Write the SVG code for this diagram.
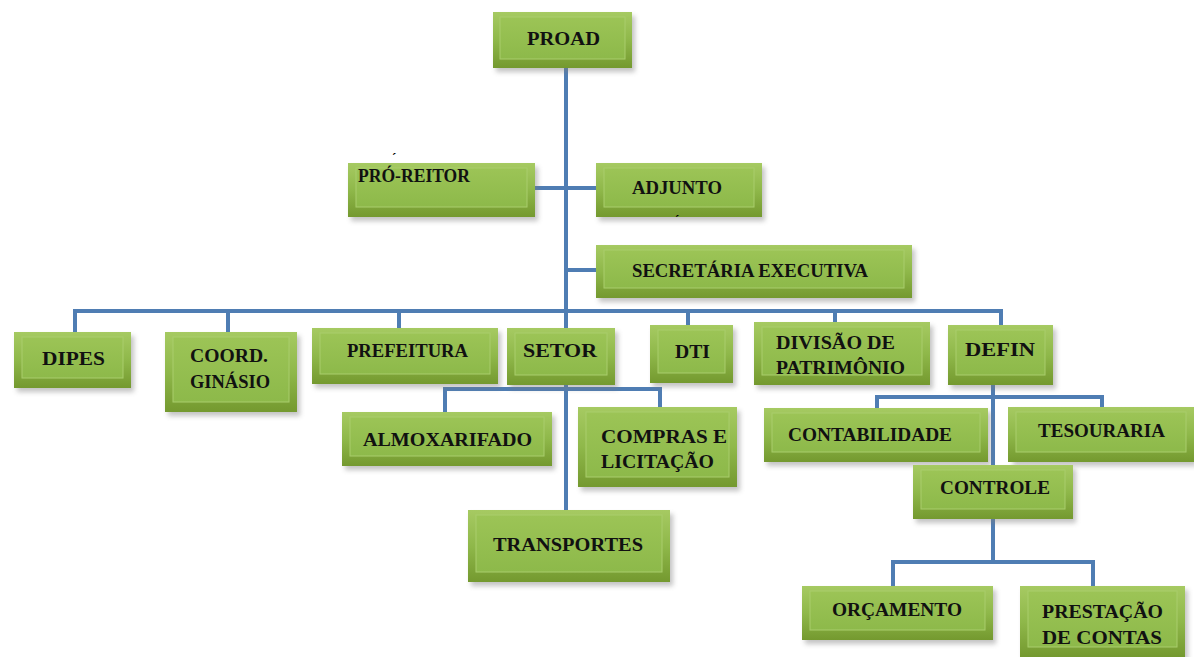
<svg xmlns="http://www.w3.org/2000/svg" width="1194" height="657" viewBox="0 0 1194 657">
<defs>
<linearGradient id="gOut" x1="0" y1="0" x2="0" y2="1">
<stop offset="0" stop-color="#a6ca62"/>
<stop offset="0.5" stop-color="#8fb84a"/>
<stop offset="1" stop-color="#74992f"/>
</linearGradient>
<linearGradient id="gIn" x1="0" y1="0" x2="0" y2="1">
<stop offset="0" stop-color="#9cc456"/>
<stop offset="1" stop-color="#8db94a"/>
</linearGradient>
<filter id="sh" x="-10%" y="-10%" width="130%" height="140%">
<feGaussianBlur stdDeviation="2.5"/>
</filter>
</defs>
<style>
.sh{fill:#7a7a7a;opacity:.45;filter:url(#sh)}
.o{fill:url(#gOut)}
.i{fill:url(#gIn);stroke:#a9cd6c;stroke-width:1}
.t{font-family:"Liberation Serif","Times New Roman",serif;font-weight:bold;font-size:19px;fill:#111}
.c{fill:none;stroke:#4f7db3;stroke-width:4;stroke-linecap:butt}
.acc{font-family:"Liberation Serif",serif;font-weight:bold;font-size:13px;fill:#000}
</style>
<rect width="1194" height="657" fill="#ffffff"/>

<g id="connectors">
<path class="c" d="M566 68V311"/>
<path class="c" d="M535 188H596"/>
<path class="c" d="M566 270H596"/>
<path class="c" d="M75 332V311H1001V325"/>
<path class="c" d="M228 311V332M399 311V328M566 311V328M688 311V325M835 311V322"/>
<path class="c" d="M566 376V512"/>
<path class="c" d="M445 412V389H660V407"/>
<path class="c" d="M993 383V467"/>
<path class="c" d="M877 408V397H1102V407"/>
<path class="c" d="M993 518V562"/>
<path class="c" d="M893 586V562H1093V586"/>
</g>

<g id="proad">
<rect class="sh" x="496" y="16" width="139" height="56"/>
<rect class="o" x="493" y="12" width="139" height="56"/>
<rect class="i" x="500" y="17" width="125" height="42"/>
<text class="t" x="527" y="45" textLength="73" lengthAdjust="spacingAndGlyphs">PROAD</text>
</g>

<g id="pro-reitor">
<rect class="sh" x="351" y="167" width="187" height="54"/>
<rect class="o" x="348" y="163" width="187" height="54"/>
<rect class="i" x="356" y="168" width="171" height="39"/>
<text class="t" x="358" y="182" textLength="112" lengthAdjust="spacingAndGlyphs">PRÓ-REITOR</text>
</g>
<text class="acc" x="392" y="162">´</text>

<g id="adjunto">
<rect class="sh" x="599" y="167" width="166" height="54"/>
<rect class="o" x="596" y="163" width="166" height="54"/>
<rect class="i" x="604" y="168" width="150" height="39"/>
<text class="t" x="632" y="194" textLength="90" lengthAdjust="spacingAndGlyphs">ADJUNTO</text>
</g>
<text class="acc" x="675" y="224">´</text>

<g id="secretaria">
<rect class="sh" x="599" y="249" width="316" height="53"/>
<rect class="o" x="596" y="245" width="316" height="53"/>
<rect class="i" x="604" y="250" width="300" height="38"/>
<text class="t" x="632" y="277" textLength="236" lengthAdjust="spacingAndGlyphs">SECRETÁRIA  EXECUTIVA</text>
</g>

<g id="dipes">
<rect class="sh" x="17" y="336" width="117" height="56"/>
<rect class="o" x="14" y="332" width="117" height="56"/>
<rect class="i" x="22" y="337" width="101" height="41"/>
<text class="t" x="42" y="365" textLength="63" lengthAdjust="spacingAndGlyphs">DIPES</text>
</g>

<g id="coord-ginasio">
<rect class="sh" x="168" y="336" width="132" height="80"/>
<rect class="o" x="165" y="332" width="132" height="80"/>
<rect class="i" x="173" y="337" width="116" height="65"/>
<text class="t" x="190" y="362" textLength="78" lengthAdjust="spacingAndGlyphs">COORD.</text>
<text class="t" x="190" y="388" textLength="80" lengthAdjust="spacingAndGlyphs">GINÁSIO</text>
</g>

<g id="prefeitura">
<rect class="sh" x="315" y="332" width="186" height="56"/>
<rect class="o" x="312" y="328" width="186" height="56"/>
<rect class="i" x="320" y="333" width="170" height="41"/>
<text class="t" x="347" y="357" textLength="121" lengthAdjust="spacingAndGlyphs">PREFEITURA</text>
</g>

<g id="setor">
<rect class="sh" x="510" y="332" width="108" height="57"/>
<rect class="o" x="507" y="328" width="108" height="57"/>
<rect class="i" x="515" y="333" width="92" height="42"/>
<text class="t" x="523" y="357" textLength="74" lengthAdjust="spacingAndGlyphs">SETOR</text>
</g>

<g id="dti">
<rect class="sh" x="653" y="329" width="83" height="58"/>
<rect class="o" x="650" y="325" width="83" height="58"/>
<rect class="i" x="658" y="330" width="67" height="43"/>
<text class="t" x="675" y="358" textLength="35" lengthAdjust="spacingAndGlyphs">DTI</text>
</g>

<g id="divisao-patrimonio">
<rect class="sh" x="757" y="326" width="176" height="63"/>
<rect class="o" x="754" y="322" width="176" height="63"/>
<rect class="i" x="762" y="327" width="160" height="48"/>
<text class="t" x="776" y="349" textLength="119" lengthAdjust="spacingAndGlyphs">DIVISÃO DE</text>
<text class="t" x="776" y="374" textLength="129" lengthAdjust="spacingAndGlyphs">PATRIMÔNIO</text>
</g>

<g id="defin">
<rect class="sh" x="951" y="329" width="105" height="60"/>
<rect class="o" x="948" y="325" width="105" height="60"/>
<rect class="i" x="956" y="330" width="89" height="45"/>
<text class="t" x="965" y="356" textLength="70" lengthAdjust="spacingAndGlyphs">DEFIN</text>
</g>

<g id="almoxarifado">
<rect class="sh" x="345" y="416" width="210" height="54"/>
<rect class="o" x="342" y="412" width="210" height="54"/>
<rect class="i" x="350" y="417" width="194" height="39"/>
<text class="t" x="363" y="446" textLength="169" lengthAdjust="spacingAndGlyphs">ALMOXARIFADO</text>
</g>

<g id="compras-licitacao">
<rect class="sh" x="581" y="411" width="159" height="80"/>
<rect class="o" x="578" y="407" width="159" height="80"/>
<rect class="i" x="586" y="412" width="143" height="65"/>
<text class="t" x="601" y="443" textLength="126" lengthAdjust="spacingAndGlyphs">COMPRAS E</text>
<text class="t" x="601" y="468" textLength="113" lengthAdjust="spacingAndGlyphs">LICITAÇÃO</text>
</g>

<g id="transportes">
<rect class="sh" x="471" y="514" width="202" height="72"/>
<rect class="o" x="468" y="510" width="202" height="72"/>
<rect class="i" x="476" y="515" width="186" height="57"/>
<text class="t" x="493" y="551" textLength="150" lengthAdjust="spacingAndGlyphs">TRANSPORTES</text>
</g>

<g id="contabilidade">
<rect class="sh" x="767" y="412" width="224" height="54"/>
<rect class="o" x="764" y="408" width="224" height="54"/>
<rect class="i" x="772" y="413" width="208" height="39"/>
<text class="t" x="788" y="441" textLength="164" lengthAdjust="spacingAndGlyphs">CONTABILIDADE</text>
</g>

<g id="tesouraria">
<rect class="sh" x="1013" y="411" width="184" height="55"/>
<rect class="o" x="1008" y="407" width="186" height="55"/>
<rect class="i" x="1016" y="412" width="170" height="40"/>
<text class="t" x="1038" y="437" textLength="127" lengthAdjust="spacingAndGlyphs">TESOURARIA</text>
</g>

<g id="controle">
<rect class="sh" x="916" y="469" width="160" height="54"/>
<rect class="o" x="913" y="465" width="160" height="54"/>
<rect class="i" x="921" y="470" width="144" height="39"/>
<text class="t" x="940" y="494" textLength="110" lengthAdjust="spacingAndGlyphs">CONTROLE</text>
</g>

<g id="orcamento">
<rect class="sh" x="805" y="590" width="191" height="54"/>
<rect class="o" x="802" y="586" width="191" height="54"/>
<rect class="i" x="810" y="591" width="175" height="39"/>
<text class="t" x="832" y="616" textLength="130" lengthAdjust="spacingAndGlyphs">ORÇAMENTO</text>
</g>

<g id="prestacao-contas">
<rect class="sh" x="1023" y="590" width="165" height="71"/>
<rect class="o" x="1020" y="586" width="165" height="71"/>
<rect class="i" x="1028" y="591" width="149" height="56"/>
<text class="t" x="1042" y="618" textLength="121" lengthAdjust="spacingAndGlyphs">PRESTAÇÃO</text>
<text class="t" x="1042" y="644" textLength="120" lengthAdjust="spacingAndGlyphs">DE CONTAS</text>
</g>
</svg>
